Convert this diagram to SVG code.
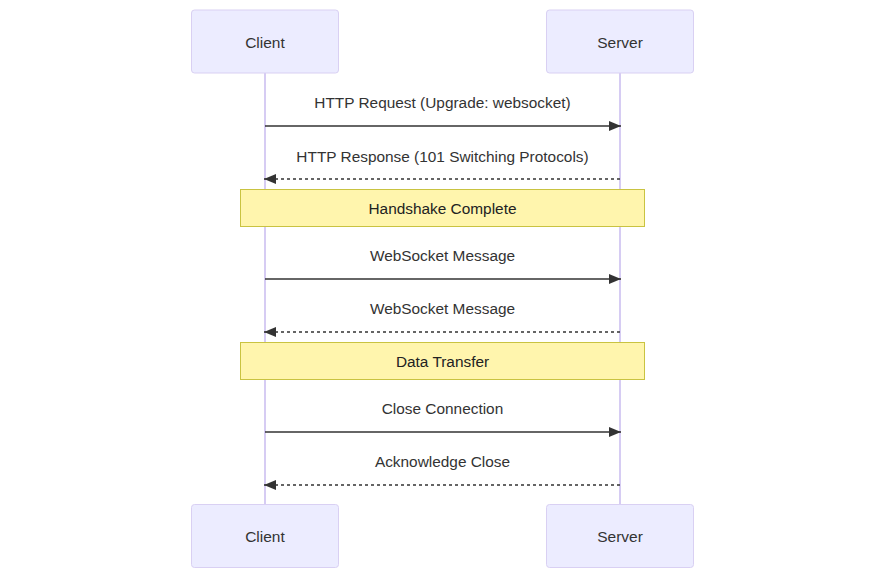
<svg xmlns="http://www.w3.org/2000/svg" width="885" height="579" viewBox="0 0 885 579">
<defs>
<style>
.actor{fill:#ECECFF;stroke:#D9D0F3;stroke-width:1}
.atext{font-family:"Liberation Sans","Open Sans",sans-serif;font-size:15.5px;fill:#333;text-anchor:middle;dominant-baseline:central}
.life{stroke:#D6CCF3;stroke-width:2}
.msg{stroke:#333;stroke-width:1.5;fill:none}
.dash{stroke-dasharray:3,3}
.mtext{font-family:"Liberation Sans","Open Sans",sans-serif;font-size:15.4px;fill:#333;text-anchor:middle;dominant-baseline:central}
.note{fill:#FFF5AD;stroke:#C9C341;stroke-width:1}
.ntext{font-family:"Liberation Sans","Open Sans",sans-serif;font-size:15.4px;fill:#222;text-anchor:middle;dominant-baseline:central}
</style>
<marker id="arrow" viewBox="0 0 12 10" refX="12" refY="5" markerWidth="12" markerHeight="10" markerUnits="userSpaceOnUse" orient="auto">
<path d="M0,0 L12,5 L0,10 z" fill="#333"/>
</marker>
</defs>
<g id="lifelines">
<line class="life" x1="265" y1="73" x2="265" y2="504"/>
<line class="life" x1="620" y1="73" x2="620" y2="504"/>
</g>
<g id="client-top"><rect class="actor" x="191.5" y="10" width="147" height="63" rx="3"/><text class="atext" x="265" y="42">Client</text></g>
<g id="server-top"><rect class="actor" x="546.5" y="10" width="147" height="63" rx="3"/><text class="atext" x="620" y="42">Server</text></g>
<g id="client-bottom"><rect class="actor" x="191.5" y="504.5" width="147" height="63" rx="3"/><text class="atext" x="265" y="536">Client</text></g>
<g id="server-bottom"><rect class="actor" x="546.5" y="504.5" width="147" height="63" rx="3"/><text class="atext" x="620" y="536">Server</text></g>
<g id="note-handshake"><rect class="note" x="240.5" y="189.5" width="404" height="37"/><text class="ntext" x="442.5" y="208">Handshake Complete</text></g>
<g id="note-data"><rect class="note" x="240.5" y="342.5" width="404" height="37"/><text class="ntext" x="442.5" y="361">Data Transfer</text></g>
<g id="connectors">
<line class="msg" x1="265" y1="126" x2="621" y2="126" marker-end="url(#arrow)"/>
<text class="mtext" x="442.5" y="102">HTTP Request (Upgrade: websocket)</text>
<line class="msg dash" x1="620" y1="179" x2="264" y2="179" marker-end="url(#arrow)"/>
<text class="mtext" x="442.5" y="156">HTTP Response (101 Switching Protocols)</text>
<line class="msg" x1="265" y1="279" x2="621" y2="279" marker-end="url(#arrow)"/>
<text class="mtext" x="442.5" y="255">WebSocket Message</text>
<line class="msg dash" x1="620" y1="332" x2="264" y2="332" marker-end="url(#arrow)"/>
<text class="mtext" x="442.5" y="308">WebSocket Message</text>
<line class="msg" x1="265" y1="432" x2="621" y2="432" marker-end="url(#arrow)"/>
<text class="mtext" x="442.5" y="408">Close Connection</text>
<line class="msg dash" x1="620" y1="485" x2="264" y2="485" marker-end="url(#arrow)"/>
<text class="mtext" x="442.5" y="461">Acknowledge Close</text>
</g>
</svg>
